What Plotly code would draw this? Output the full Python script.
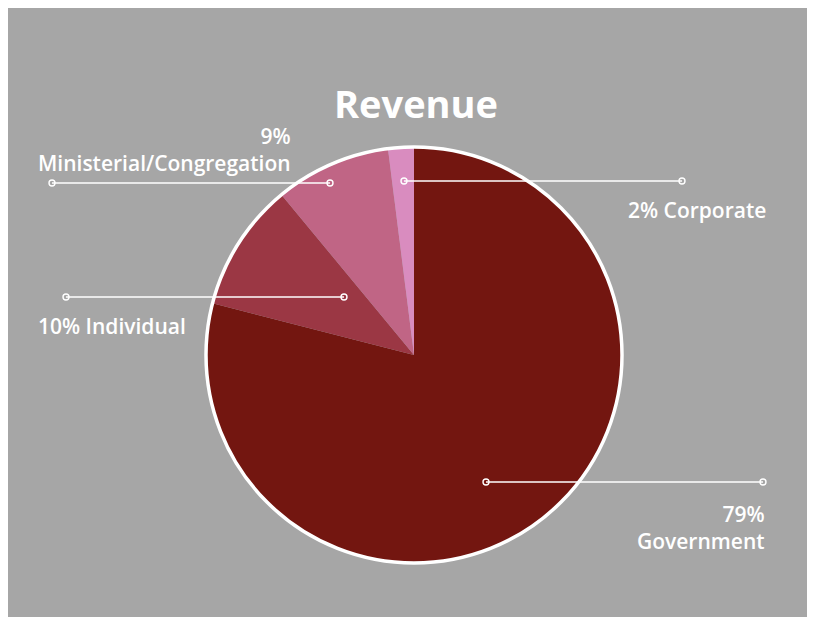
import plotly.graph_objects as go

W, H = 815, 617
OFF = 8  # page offset seen in the reference picture

# ---- data ----
categories = ["Government", "Individual", "Ministerial/Congregation", "Corporate"]
values = [79, 10, 9, 2]
colors = ["#731610", "#9b3744", "#c06585", "#d98cbf"]

# label layout (pixel positions)
leader_lines = [  # (x0, x1, y)
    (486, 763, 482),   # Government
    (66, 344, 297),    # Individual
    (52, 330, 183),    # Ministerial
    (404, 682, 181),   # Corporate
]
label_texts = [  # (text, x, y, xanchor)
    ("79%<br>Government", 767, 527, "right"),
    ("10% Individual", 36, 326, "left"),
    ("9%<br>Ministerial/Congregation", 293, 150, "right"),
    ("2% Corporate", 626, 210, "left"),
]

def px(x):
    return (x - OFF) / W

def py(y):
    return 1 - (y - OFF) / H

cx, cy, r = 414, 355, 208
BG = "#a6a6a6"

fig = go.Figure()
fig.add_trace(go.Pie(
    labels=categories, values=values, sort=False, direction="clockwise",
    rotation=0, marker=dict(colors=colors, line=dict(width=0)),
    textinfo="none", hoverinfo="label+percent", showlegend=False,
    domain=dict(x=[px(cx - r), px(cx + r)], y=[py(cy + r), py(cy - r)]),
))

shapes = [
    dict(type="circle", xref="paper", yref="paper", x0=px(cx - r), x1=px(cx + r),
         y0=py(cy + r), y1=py(cy - r), line=dict(color="white", width=3.5),
         fillcolor="rgba(0,0,0,0)", layer="above"),
]
for x0, x1, y in leader_lines:
    shapes.append(dict(type="line", xref="paper", yref="paper", x0=px(x0), x1=px(x1),
                       y0=py(y), y1=py(y), line=dict(color="white", width=1.6), layer="above"))
    for xe in (x0, x1):
        shapes.append(dict(type="circle", xref="paper", yref="paper", xsizemode="pixel",
                           ysizemode="pixel", xanchor=px(xe), yanchor=py(y),
                           x0=-3, x1=3, y0=-3, y1=3,
                           line=dict(color="white", width=1.4),
                           fillcolor="rgba(0,0,0,0)", layer="above"))

annotations = [
    dict(text="<b>Revenue</b>", x=px(416), y=py(103), xref="paper", yref="paper",
         xanchor="center", yanchor="middle", showarrow=False,
         font=dict(family="Open Sans", size=38, color="white")),
]
for t, x, y, xa in label_texts:
    annotations.append(dict(text=t, x=px(x), y=py(y), xref="paper", yref="paper",
                            xanchor=xa, yanchor="middle", showarrow=False, align=xa,
                            font=dict(family="Open Sans", size=21, color="white",
                                      weight=600)))

fig.update_layout(
    width=W, height=H, margin=dict(l=0, r=0, t=0, b=0),
    paper_bgcolor=BG, plot_bgcolor=BG,
    shapes=shapes, annotations=annotations,
)

fig.write_html("out.html")
